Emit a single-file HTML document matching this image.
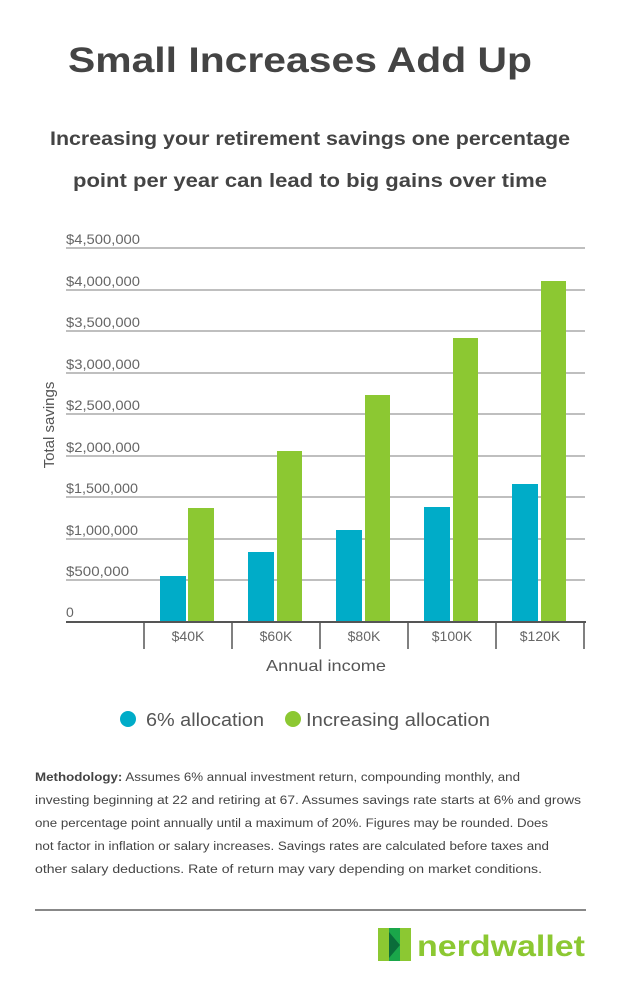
<!DOCTYPE html>
<html><head><meta charset="utf-8"><style>
body{margin:0;background:#fff;width:620px;height:982px;overflow:hidden;font-family:"Liberation Sans",sans-serif;color:#444}
</style></head><body>
<svg width="620" height="982" xmlns="http://www.w3.org/2000/svg" font-family="Liberation Sans, sans-serif">
<text x="68" y="72" textLength="464" lengthAdjust="spacingAndGlyphs" font-size="35" font-weight="bold" fill="#444">Small Increases Add Up</text>
<text x="50" y="145" textLength="520" lengthAdjust="spacingAndGlyphs" font-size="19" font-weight="bold" fill="#444">Increasing your retirement savings one percentage</text>
<text x="73" y="187" textLength="474" lengthAdjust="spacingAndGlyphs" font-size="19" font-weight="bold" fill="#444">point per year can lead to big gains over time</text>
<g stroke="#aaa" stroke-width="1.5">
<line x1="66" x2="585" y1="248" y2="248"/><line x1="66" x2="585" y1="290" y2="290"/>
<line x1="66" x2="585" y1="331" y2="331"/><line x1="66" x2="585" y1="373" y2="373"/>
<line x1="66" x2="585" y1="414" y2="414"/><line x1="66" x2="585" y1="456" y2="456"/>
<line x1="66" x2="585" y1="497" y2="497"/><line x1="66" x2="585" y1="539" y2="539"/>
<line x1="66" x2="585" y1="580" y2="580"/>
</g>
<g font-size="14" fill="#666">
<text x="66" y="244" textLength="74" lengthAdjust="spacingAndGlyphs">$4,500,000</text><text x="66" y="286" textLength="74" lengthAdjust="spacingAndGlyphs">$4,000,000</text>
<text x="66" y="327" textLength="74" lengthAdjust="spacingAndGlyphs">$3,500,000</text><text x="66" y="369" textLength="74" lengthAdjust="spacingAndGlyphs">$3,000,000</text>
<text x="66" y="410" textLength="74" lengthAdjust="spacingAndGlyphs">$2,500,000</text><text x="66" y="452" textLength="74" lengthAdjust="spacingAndGlyphs">$2,000,000</text>
<text x="66" y="493" textLength="72" lengthAdjust="spacingAndGlyphs">$1,500,000</text><text x="66" y="535" textLength="72" lengthAdjust="spacingAndGlyphs">$1,000,000</text>
<text x="66" y="576" textLength="63" lengthAdjust="spacingAndGlyphs">$500,000</text><text x="66" y="617">0</text>
</g>
<text transform="translate(54,425) rotate(-90)" text-anchor="middle" font-size="15" fill="#555">Total savings</text>
<g fill="#00acc8">
<rect x="160" y="576" width="26" height="46"/><rect x="248" y="552" width="26" height="70"/>
<rect x="336" y="530" width="26" height="92"/><rect x="424" y="507" width="26" height="115"/>
<rect x="512" y="484" width="26" height="138"/>
</g>
<g fill="#8cc832">
<rect x="188" y="508" width="26" height="114"/><rect x="277" y="451" width="25" height="171"/>
<rect x="365" y="395" width="25" height="227"/><rect x="453" y="338" width="25" height="284"/>
<rect x="541" y="281" width="25" height="341"/>
</g>
<line x1="66" x2="586" y1="622" y2="622" stroke="#555" stroke-width="2"/>
<g stroke="#555" stroke-width="1.5">
<line x1="144" x2="144" y1="622" y2="649"/><line x1="232" x2="232" y1="622" y2="649"/>
<line x1="320" x2="320" y1="622" y2="649"/><line x1="408" x2="408" y1="622" y2="649"/>
<line x1="496" x2="496" y1="622" y2="649"/><line x1="584" x2="584" y1="622" y2="649"/>
</g>
<g font-size="14" fill="#666" text-anchor="middle">
<text x="188" y="641">$40K</text><text x="276" y="641">$60K</text><text x="364" y="641">$80K</text>
<text x="452" y="641">$100K</text><text x="540" y="641">$120K</text>
</g>
<text x="266" y="671" textLength="120" lengthAdjust="spacingAndGlyphs" font-size="16" fill="#555">Annual income</text>
<circle cx="128" cy="719" r="8" fill="#00acc8"/>
<text x="146" y="726" textLength="118" lengthAdjust="spacingAndGlyphs" font-size="18" fill="#555">6% allocation</text>
<circle cx="293" cy="719" r="8" fill="#8cc832"/>
<text x="306" y="726" textLength="184" lengthAdjust="spacingAndGlyphs" font-size="18" fill="#555">Increasing allocation</text>
<g font-size="11.5" fill="#444">
<text x="35" y="781" textLength="485" lengthAdjust="spacingAndGlyphs"><tspan font-weight="bold">Methodology:</tspan> Assumes 6% annual investment return, compounding monthly, and</text>
<text x="35" y="804" textLength="546" lengthAdjust="spacingAndGlyphs">investing beginning at 22 and retiring at 67. Assumes savings rate starts at 6% and grows</text>
<text x="35" y="827" textLength="513" lengthAdjust="spacingAndGlyphs">one percentage point annually until a maximum of 20%. Figures may be rounded. Does</text>
<text x="35" y="850" textLength="514" lengthAdjust="spacingAndGlyphs">not factor in inflation or salary increases. Savings rates are calculated before taxes and</text>
<text x="35" y="873" textLength="507" lengthAdjust="spacingAndGlyphs">other salary deductions. Rate of return may vary depending on market conditions.</text>
</g>
<line x1="35" x2="586" y1="910" y2="910" stroke="#888" stroke-width="2"/>
<g>
<polygon points="378,928 389,928 389,961 378,961" fill="#8cc832"/>
<polygon points="389,928 400,928 400,961 389,961" fill="#1aa64a"/>
<polygon points="400,928 411,928 411,961 400,961" fill="#8cc832"/>
<polygon points="389,932 400,945 389,958" fill="#0a6d3a"/>
</g>
<text x="417" y="956" textLength="168" lengthAdjust="spacingAndGlyphs" font-size="30" font-weight="bold" fill="#8cc832">nerdwallet</text>
</svg>
</body></html>
